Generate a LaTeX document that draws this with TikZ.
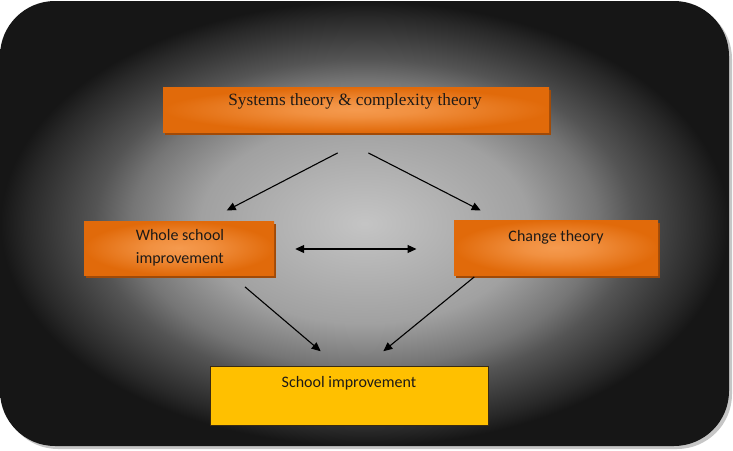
\documentclass[tikz,border=0pt]{standalone}
\usepackage{fontspec}
\setmainfont{Carlito}
\newfontfamily\titlefont{Liberation Serif}
\usetikzlibrary{arrows.meta,calc,shadows}

\definecolor{bgc0}{gray}{0.77}
\definecolor{bgc1}{gray}{0.63}
\definecolor{bgc2}{gray}{0.46}
\definecolor{bgc3}{gray}{0.33}
\definecolor{bgc4}{gray}{0.23}
\definecolor{bgc5}{gray}{0.16}
\definecolor{bgc6}{gray}{0.085}
\definecolor{orangeA}{HTML}{F59A4E}
\definecolor{orangeB}{HTML}{E16A0A}
\definecolor{orangeShadow}{HTML}{A04A08}
\definecolor{yellowbox}{HTML}{FFC000}
\definecolor{yellowborder}{HTML}{3A2A10}
\definecolor{txtcol}{HTML}{1E1A17}

\pgfdeclareradialshading{bgshade}{\pgfpoint{0bp}{0bp}}{color(0bp)=(bgc0); color(11.25bp)=(bgc1); color(16bp)=(bgc2); color(18.5bp)=(bgc3); color(21.25bp)=(bgc4); color(23.2bp)=(bgc5); color(25bp)=(bgc6); color(50bp)=(bgc6)}
\pgfdeclareradialshading{orangeshade}{\pgfpoint{0bp}{0bp}}{color(0bp)=(orangeA); color(8bp)=(orangeA!80!orangeB); color(25bp)=(orangeB); color(50bp)=(orangeB)}

\tikzset{
  obox/.style={shade, shading=orangeshade, inner sep=0pt, draw=none,
    drop shadow={shadow xshift=2pt, shadow yshift=-3pt, fill=orangeShadow, opacity=1}},
  ybox/.style={fill=yellowbox, draw=yellowborder, line width=0.9pt, inner sep=0pt},
  lbl/.style={text=txtcol, font=\fontsize{16}{23}\selectfont, inner sep=0pt},
  ttl/.style={text=txtcol, font=\titlefont\fontsize{17.2}{20}\selectfont, inner sep=0pt},
  conn/.style={line width=1.1pt, -{Triangle[length=9pt,width=8pt]}},
  dconn/.style={line width=1.1pt, {Triangle[length=9pt,width=8pt]}-{Triangle[length=9pt,width=8pt]}}
}

\begin{document}
\begin{tikzpicture}[x=1pt,y=-1pt]
\useasboundingbox (0,0) rectangle (733,450);
% background panel
\fill[gray!45, rounded corners=55pt] (3,4) rectangle (732,449);
\shade[shading=bgshade, rounded corners=55pt] (0,1) rectangle (729,446);

% boxes
\node[obox, minimum width=386pt, minimum height=45pt] (top) at (356,109.5) {};
\node[ttl] (toptext) at (355,101.5) {Systems theory \& complexity theory};

\node[obox, minimum width=190pt, minimum height=54pt] (whole) at (179,248) {};
\node[lbl, align=left] (wholetext) at (180,247.5) {Whole school\\improvement};

\node[obox, minimum width=204pt, minimum height=55pt] (change) at (556,247.5) {};
\node[lbl] (changetext) at (556,237) {Change theory};

\node[ybox, minimum width=278pt, minimum height=59pt] (school) at (349,395.5) {};
\node[lbl] (schooltext) at (349,383) {School improvement};

% connectors
\draw[conn] ($(top.south)+(-18.3,20.7)$) -- ($(whole.north)+(47.7,-10.3)$);
\draw[conn] ($(top.south)+(12.3,20.7)$) -- ($(change.north)+(-75.3,-9.3)$);
\draw[dconn] ($(whole.east)+(21,1)$) -- ($(change.west)+(-37.3,1.5)$);
\draw[conn] ($(whole.south)+(66,11.7)$) -- ($(school.north)+(-28.3,-14.3)$);
\draw[conn] ($(change.south)+(-81.7,1.7)$) -- ($(school.north)+(34.3,-14.3)$);
\end{tikzpicture}
\end{document}
